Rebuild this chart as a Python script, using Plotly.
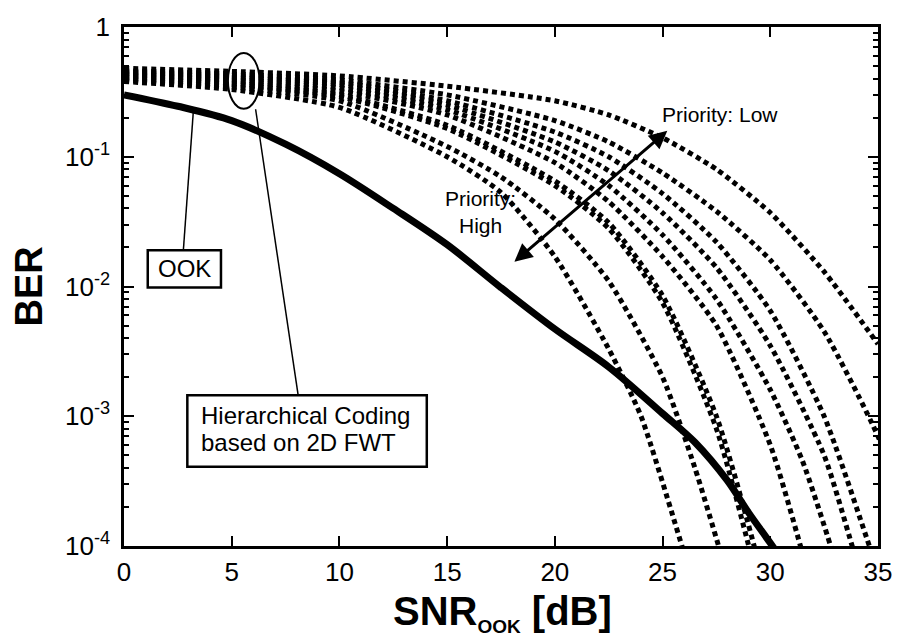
import plotly.graph_objects as go

# ---------------- data ----------------
snr_ook = [0, 2.5, 5, 7.5, 10, 12.5, 15, 17.5, 20, 22.5, 25, 26.5, 28, 29, 30.1, 31]
ber_ook = [0.30, 0.245, 0.19, 0.125, 0.074, 0.040, 0.021, 9.8e-3, 4.7e-3, 2.4e-3,
           1.05e-3, 6.3e-4, 3.2e-4, 1.8e-4, 1e-4, 6e-5]

snr_a = [0, 5, 10, 15, 17.5, 20, 22.5, 24, 25.9, 27]
ber_a = [0.38, 0.33, 0.24, 0.10, 0.053, 0.017, 3.3e-3, 1.0e-3, 1e-4, 2.5e-5]

snr_b = [0, 5, 10, 15, 17.5, 20, 22.5, 25, 26.5, 27.6, 28.5]
ber_b = [0.39, 0.345, 0.27, 0.12, 0.07, 0.033, 0.011, 2e-3, 4e-4, 1e-4, 3e-5]

snr_c = [0, 5, 10, 15, 20, 22.5, 25, 27.5, 29, 30]
ber_c = [0.40, 0.36, 0.29, 0.165, 0.06, 0.028, 7.5e-3, 8e-4, 1e-4, 2e-5]

snr_c2 = [0, 5, 10, 15, 20, 22.5, 25, 27.5, 29.25, 30.2]
ber_c2 = [0.41, 0.37, 0.30, 0.175, 0.065, 0.031, 8.5e-3, 1e-3, 1e-4, 2e-5]

snr_d = [0, 5, 10, 15, 20, 22.5, 25, 27.5, 30, 31.4, 32.5]
ber_d = [0.42, 0.385, 0.32, 0.21, 0.09, 0.045, 0.017, 5e-3, 6e-4, 1e-4, 2e-5]

snr_e = [0, 5, 10, 15, 20, 22.5, 25, 27.5, 30, 31.5, 32.8, 34]
ber_e = [0.43, 0.395, 0.34, 0.23, 0.11, 0.06, 0.025, 8e-3, 1.6e-3, 4.5e-4, 1e-4, 2e-5]

snr_f = [0, 5, 10, 15, 20, 22.5, 25, 27.5, 30, 32.5, 33.8, 35]
ber_f = [0.44, 0.41, 0.36, 0.25, 0.13, 0.078, 0.037, 0.014, 3.5e-3, 5e-4, 1e-4, 2e-5]

snr_g = [0, 5, 10, 15, 20, 22.5, 25, 27.5, 30, 32.5, 34.6, 36]
ber_g = [0.45, 0.42, 0.375, 0.27, 0.155, 0.10, 0.052, 0.022, 6.5e-3, 1e-3, 1e-4, 2e-5]

snr_h = [0, 5, 10, 15, 20, 22.5, 25, 27.5, 30, 32.5, 35, 36.5]
ber_h = [0.46, 0.435, 0.39, 0.30, 0.19, 0.13, 0.075, 0.038, 0.016, 4.5e-3, 7e-4, 1.5e-4]

snr_i = [0, 5, 10, 15, 20, 22.5, 25, 27.5, 30, 32.5, 35]
ber_i = [0.48, 0.455, 0.42, 0.35, 0.27, 0.21, 0.14, 0.08, 0.037, 0.013, 3.6e-3]

x_ticks = [0, 5, 10, 15, 20, 25, 30, 35]
y_ticks = [1e-4, 1e-3, 1e-2, 1e-1, 1]
y_ticktext = ["10<sup>-4</sup>", "10<sup>-3</sup>", "10<sup>-2</sup>", "10<sup>-1</sup>", "1"]

# ---------------- layout helpers ----------------
W, H = 904, 638
ML, MR, MT, MB = 124, 18, 16, 92
PW, PH = W - ML - MR, H - MT - MB


def px(x):
    return (x - ML) / PW


def py(y):
    return 1 - (y - MT) / PH


FONT = "Liberation Sans, Arial, Helvetica, sans-serif"

fig = go.Figure()

dotted_series = [(snr_i, ber_i), (snr_h, ber_h), (snr_g, ber_g), (snr_f, ber_f),
                 (snr_e, ber_e), (snr_d, ber_d), (snr_c2, ber_c2), (snr_c, ber_c),
                 (snr_b, ber_b), (snr_a, ber_a)]
for xs, ys in dotted_series:
    fig.add_trace(go.Scatter(
        x=xs, y=ys, mode="lines", showlegend=False, hoverinfo="skip",
        line=dict(color="black", width=5, dash="5px,4px", shape="spline", smoothing=0.6)))

fig.add_trace(go.Scatter(
    x=snr_ook, y=ber_ook, mode="lines", showlegend=False, hoverinfo="skip",
    line=dict(color="black", width=7, shape="spline", smoothing=0.9)))

axis_common = dict(
    showline=True, linecolor="black", linewidth=2.5, mirror="ticks",
    ticks="inside", ticklen=10, tickwidth=2, tickcolor="black",
    showgrid=False, zeroline=False,
    tickfont=dict(family=FONT, size=26, color="black"),
)

fig.update_xaxes(range=[0, 35], tickvals=x_ticks, ticklabelstandoff=1, **axis_common)
fig.update_yaxes(type="log", range=[-4, 0], tickvals=y_ticks, ticktext=y_ticktext,
                 ticklabelstandoff=6,
                 minor=dict(ticks="inside", ticklen=5, tickwidth=2, tickcolor="black",
                            dtick="D1", showgrid=False),
                 **axis_common)

shapes = [
    dict(type="circle", xref="paper", yref="paper", x0=px(229), x1=px(261),
         y0=py(99.5), y1=py(42.5), line=dict(color="black", width=2)),
    dict(type="line", xref="paper", yref="paper", x0=px(194), y0=py(103),
         x1=px(184), y1=py(244), line=dict(color="black", width=1.5)),
    dict(type="line", xref="paper", yref="paper", x0=px(257), y0=py(100),
         x1=px(300), y1=py(392), line=dict(color="black", width=1.5)),
    dict(type="rect", xref="paper", yref="paper", x0=px(148), x1=px(222),
         y0=py(282), y1=py(244), line=dict(color="black", width=2.5), fillcolor="white"),
    dict(type="rect", xref="paper", yref="paper", x0=px(188), x1=px(430),
         y0=py(465), y1=py(392), line=dict(color="black", width=2.5), fillcolor="white"),
]

ann_font = dict(family=FONT, color="black")


def label(text, x, y, size, xanchor="center", **kw):
    return dict(text=text, x=px(x), y=py(y), xref="paper", yref="paper",
                xanchor=xanchor, yanchor="middle", showarrow=False,
                font=dict(size=size, **ann_font), **kw)


annotations = [
    label("Priority: Low", 726, 105, 21),
    label("Priority:<br>High", 484, 205, 21, align="center"),
    label("OOK", 185, 263, 24),
    label("Hierarchical Coding", 200, 413, 24, xanchor="left"),
    label("based on 2D FWT", 200, 440, 24, xanchor="left"),
    # double-headed arrow (positions in axis units; log10 for y)
    dict(text="", x=25.22, y=-0.80, ax=18.05, ay=-1.82, xref="x", yref="y",
         axref="x", ayref="y", showarrow=True, arrowhead=2, startarrowhead=2,
         arrowside="end+start", arrowwidth=3, arrowsize=1.2, startarrowsize=1.2,
         arrowcolor="black"),
    # axis titles
    label("<b>BER</b>", 27, 281, 38, textangle=-90),
    label("<b>SNR<sub><span style=\"font-size:19px\">OOK</span></sub> [dB]</b>",
          507, 614, 40),
]

fig.update_layout(
    width=W, height=H,
    margin=dict(l=ML, r=MR, t=MT, b=MB, pad=0),
    paper_bgcolor="white", plot_bgcolor="white",
    shapes=shapes, annotations=annotations,
    font=dict(family=FONT, color="black"),
)

fig.write_html("out.html")
